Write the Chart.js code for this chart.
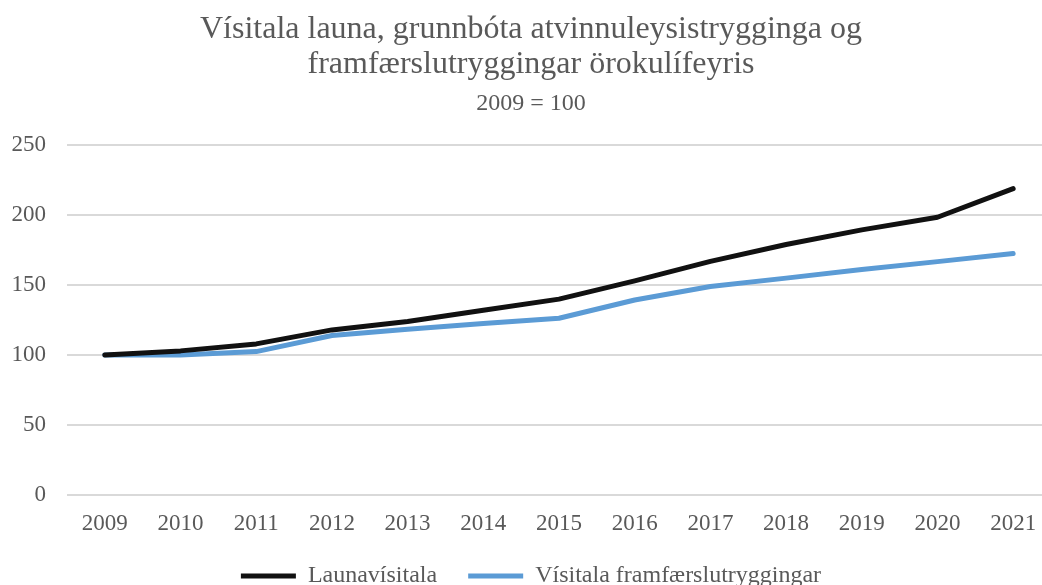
<!DOCTYPE html>
<html>
<head>
<meta charset="utf-8">
<script src="https://cdn.jsdelivr.net/npm/chart.js"></script>
<style>
  html, body { margin: 0; padding: 0; background: #fff; overflow: hidden; }
  #wrap { width: 1072px; height: 598px; }
</style>
</head>
<body>
<div id="wrap"><canvas id="visitala"></canvas></div>
<script>
// gögn lesin af myndinni
var ar = ['2009','2010','2011','2012','2013','2014','2015','2016','2017','2018','2019','2020','2021'];
var launavisitala = [100, 103, 108, 118, 124, 132, 140, 153, 167, 179, 189.5, 198.5, 219];
var framfaersla = [100, 100, 102.5, 114, 118.5, 122.5, 126.3, 139.4, 149, 155, 161.2, 166.8, 172.6];
var yTicks = [0, 50, 100, 150, 200, 250];

var grar = '#595959';
var serif = "'Liberation Serif', 'Times New Roman', serif";

var ctx = document.getElementById('visitala').getContext('2d');
var myChart = new Chart(ctx, {
    type: 'line',
    data: {
        labels: ar,
        datasets: [{
            label: 'Launavísitala',
            data: launavisitala,
            borderColor: '#111111',
            backgroundColor: '#111111',
            borderWidth: 5,
            borderCapStyle: 'round',
            borderJoinStyle: 'round',
            pointRadius: 0,
            tension: 0
        }, {
            label: 'Vísitala framfærslutryggingar',
            data: framfaersla,
            borderColor: '#5b9bd5',
            backgroundColor: '#5b9bd5',
            borderWidth: 5,
            borderCapStyle: 'round',
            borderJoinStyle: 'round',
            pointRadius: 0,
            tension: 0
        }]
    },
    options: {
        responsive: true,
        maintainAspectRatio: false,
        animation: false,
        layout: { padding: { left: 11, right: 21, top: 0, bottom: 0 } },
        plugins: {
            title: {
                display: true,
                text: ['Vísitala launa, grunnbóta atvinnuleysistrygginga og', 'framfærslutryggingar örokulífeyris'],
                color: grar,
                font: { family: serif, size: 32, weight: 'normal', lineHeight: 1.1 },
                padding: { top: 12, bottom: 7 }
            },
            subtitle: {
                display: true,
                text: '2009 = 100',
                color: grar,
                font: { family: serif, size: 24, weight: 'normal', lineHeight: 1.2 },
                padding: { top: 0, bottom: 27 }
            },
            legend: {
                position: 'bottom',
                labels: {
                    usePointStyle: true,
                    pointStyle: 'line',
                    pointStyleWidth: 55,
                    color: grar,
                    font: { family: serif, size: 24 },
                    padding: 31,
                    boxHeight: 5
                }
            },
            tooltip: { enabled: false }
        },
        scales: {
            x: {
                offset: true,
                grid: { display: false, drawTicks: false },
                border: { display: false },
                ticks: { color: grar, font: { family: serif, size: 23 }, padding: 15, maxRotation: 0 },
                afterFit: function (axis) { axis.height = 38; }
            },
            y: {
                min: 0,
                max: 250,
                afterBuildTicks: function (axis) { axis.ticks = yTicks.map(function (v) { return { value: v }; }); },
                afterFit: function (axis) { axis.width = 56; },
                grid: { color: '#d9d9d9', lineWidth: 2, drawTicks: false },
                border: { display: false },
                ticks: { color: grar, font: { family: serif, size: 23 }, padding: 21 }
            }
        }
    }
});
</script>
</body>
</html>
